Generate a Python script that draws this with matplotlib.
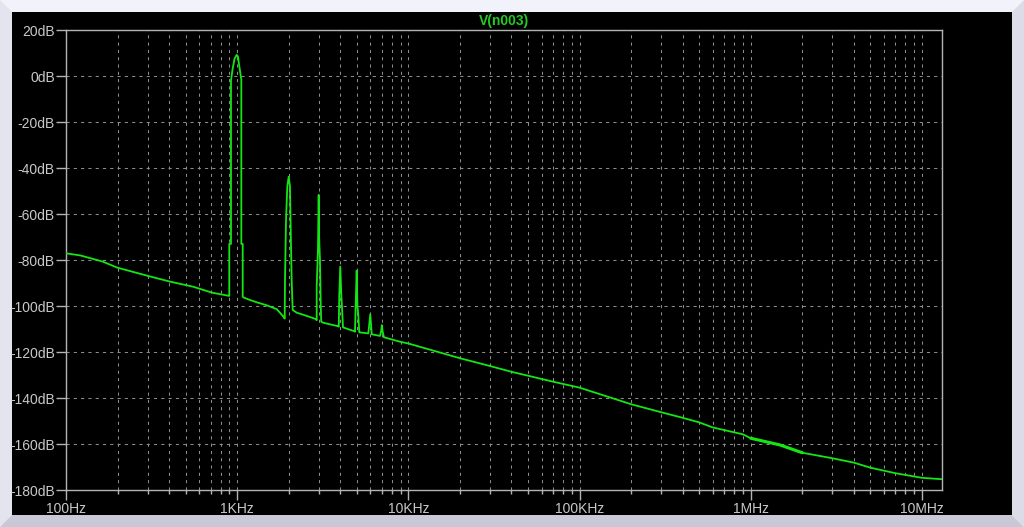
import numpy as np
import matplotlib
matplotlib.use("Agg")
import matplotlib.pyplot as plt
from matplotlib.patches import Polygon, Rectangle
from matplotlib.ticker import FixedLocator, NullFormatter

# spectrum (Hz, dB)
freq_hz = [100, 121, 164, 199, 297, 405, 552, 713, 884,
           899, 899, 920, 920, 940, 965, 993, 1010, 1030, 1057, 1057, 1077, 1077, 1091,
           1188, 1328, 1490, 1705, 1860, 1895,
           1902, 1928, 1962, 1999, 2034, 2050, 2081, 2110,
           2226, 2547, 2886, 2914,
           2914, 2965, 2993, 3010, 3045, 3074, 3097,
           3184, 3895,
           3920, 3948, 4002, 4056, 4111, 4150,
           4850, 4877, 4930, 4989, 5040, 5098, 5167,
           5215, 5832,
           5900, 5990, 6060, 6105,
           6826, 6930, 7000, 7070, 7201,
           9000, 10000, 20000, 30000, 40000, 70000, 100000,
           200000, 300000, 400000, 500000, 600000, 900000, 1.0e6,
           1.48e6, 2e6, 3e6, 4e6, 5e6, 7e6, 1e7, 1.3e7]
level_db = [-77.1, -78.0, -80.7, -83.3, -86.8, -89.4, -91.6, -94.2, -95.5,
            -95.6, -73, -73, -2, 3, 7.5, 9.2, 8.5, 4, -1.5, -73, -73, -96, -96.3,
            -97.4, -98.6, -99.7, -101.4, -104.6, -105.5,
            -89, -63, -48, -43.8, -48, -63, -89, -101.7,
            -102.9, -104.3, -105.7, -106.2,
            -91.6, -75, -51.7, -70, -80, -98, -106.8,
            -107.3, -108.8,
            -109, -95, -82.9, -95, -103, -109.3,
            -111, -111.2, -98, -84.6, -100, -104, -111.4,
            -111.5, -111.9,
            -108.5, -103.6, -108.5, -112.3,
            -113, -111, -108.3, -111, -113.6,
            -115.6, -116.3, -122.7, -126.1, -128.6, -132.9, -135.5,
            -142.7, -146.2, -148.6, -150.6, -152.8, -155.8, -157.5,
            -160.4, -163.8, -166.2, -168.1, -170.3, -172.7, -174.7, -175.3]

x_ticks = [1e2, 1e3, 1e4, 1e5, 1e6, 1e7]
x_labels = ["100Hz", "1KHz", "10KHz", "100KHz", "1MHz", "10MHz"]
y_ticks = list(range(-180, 21, 20))
y_labels = [f"{v}dB" for v in y_ticks]
trace_name = "V(n003)"

W, H = 1024, 527
fig = plt.figure(figsize=(W / 100, H / 100), dpi=100)
fig.patch.set_facecolor("#f2f2fa")

def fx(x):
    return x / W

def fy(y):
    return 1 - y / H

# window bevel + black plot pane
bevel = [
    ([(0, 0), (12, 12), (12, 515), (0, 527)], "#e4e4ee"),
    ([(0, 527), (12, 515), (1012, 515), (1024, 527)], "#c8c8d6"),
    ([(1024, 527), (1012, 515), (1012, 12), (1024, 0)], "#dcdce8"),
]
for pts, c in bevel:
    fig.patches.append(Polygon([(fx(a), fy(b)) for a, b in pts], closed=True,
                               transform=fig.transFigure, facecolor=c, edgecolor="none", zorder=-10))
fig.patches.append(Rectangle((fx(12), fy(515)), fx(1000), 503 / H, transform=fig.transFigure,
                             facecolor="black", edgecolor="none", zorder=-10))

ax = fig.add_axes([fx(66), fy(490), fx(942 - 66), (490 - 30) / H])
ax.set_facecolor("black")
ax.set_xscale("log")
ax.set_xlim(100, 1.31e7)
ax.set_ylim(-180, 20)

green = "#14e614"
ax.plot(freq_hz, level_db, color=green, lw=1.3, zorder=3, solid_joinstyle="round")
f = np.array(freq_hz)
d = np.array(level_db)
sel = (f >= 1e6) & (f <= 2e6)
ax.plot(f[sel], d[sel], color=green, lw=2.2, zorder=3, solid_capstyle="round")

frame = "#b4b4b4"
grid = "#8c8c8c"
for s in ax.spines.values():
    s.set_color(frame)
    s.set_linewidth(1.0)

ax.xaxis.set_major_locator(FixedLocator(x_ticks))
ax.set_xticklabels(x_labels)
minor = [m * 10 ** e for e in range(2, 8) for m in range(2, 10) if m * 10 ** e < 1.31e7]
ax.xaxis.set_minor_locator(FixedLocator(minor))
ax.xaxis.set_minor_formatter(NullFormatter())
ax.set_yticks(y_ticks)
ax.set_yticklabels(y_labels)

ax.tick_params(axis="x", which="major", length=7, width=1, color=frame, pad=1.5,
               labelcolor="#c8c8c8", labelsize=10)
ax.tick_params(axis="x", which="minor", length=3, width=1, color=frame)
ax.tick_params(axis="y", which="major", length=7, width=1, color=frame, pad=1,
               labelcolor="#c8c8c8", labelsize=10)
for lab in ax.get_xticklabels() + ax.get_yticklabels():
    lab.set_fontfamily("Liberation Sans")

ax.grid(True, which="both", axis="x", color=grid, lw=0.75, ls=(0, (3, 4)), zorder=1)
ax.grid(True, which="major", axis="y", color=grid, lw=0.75, ls=(0, (3, 4)), zorder=1)
ax.set_axisbelow(True)

fig.text(fx(504), fy(21), trace_name, color="#22cc22", fontsize=10, fontweight="bold",
         family="Liberation Sans", ha="center", va="center")

fig.savefig("out.png", dpi=100, facecolor=fig.get_facecolor())
